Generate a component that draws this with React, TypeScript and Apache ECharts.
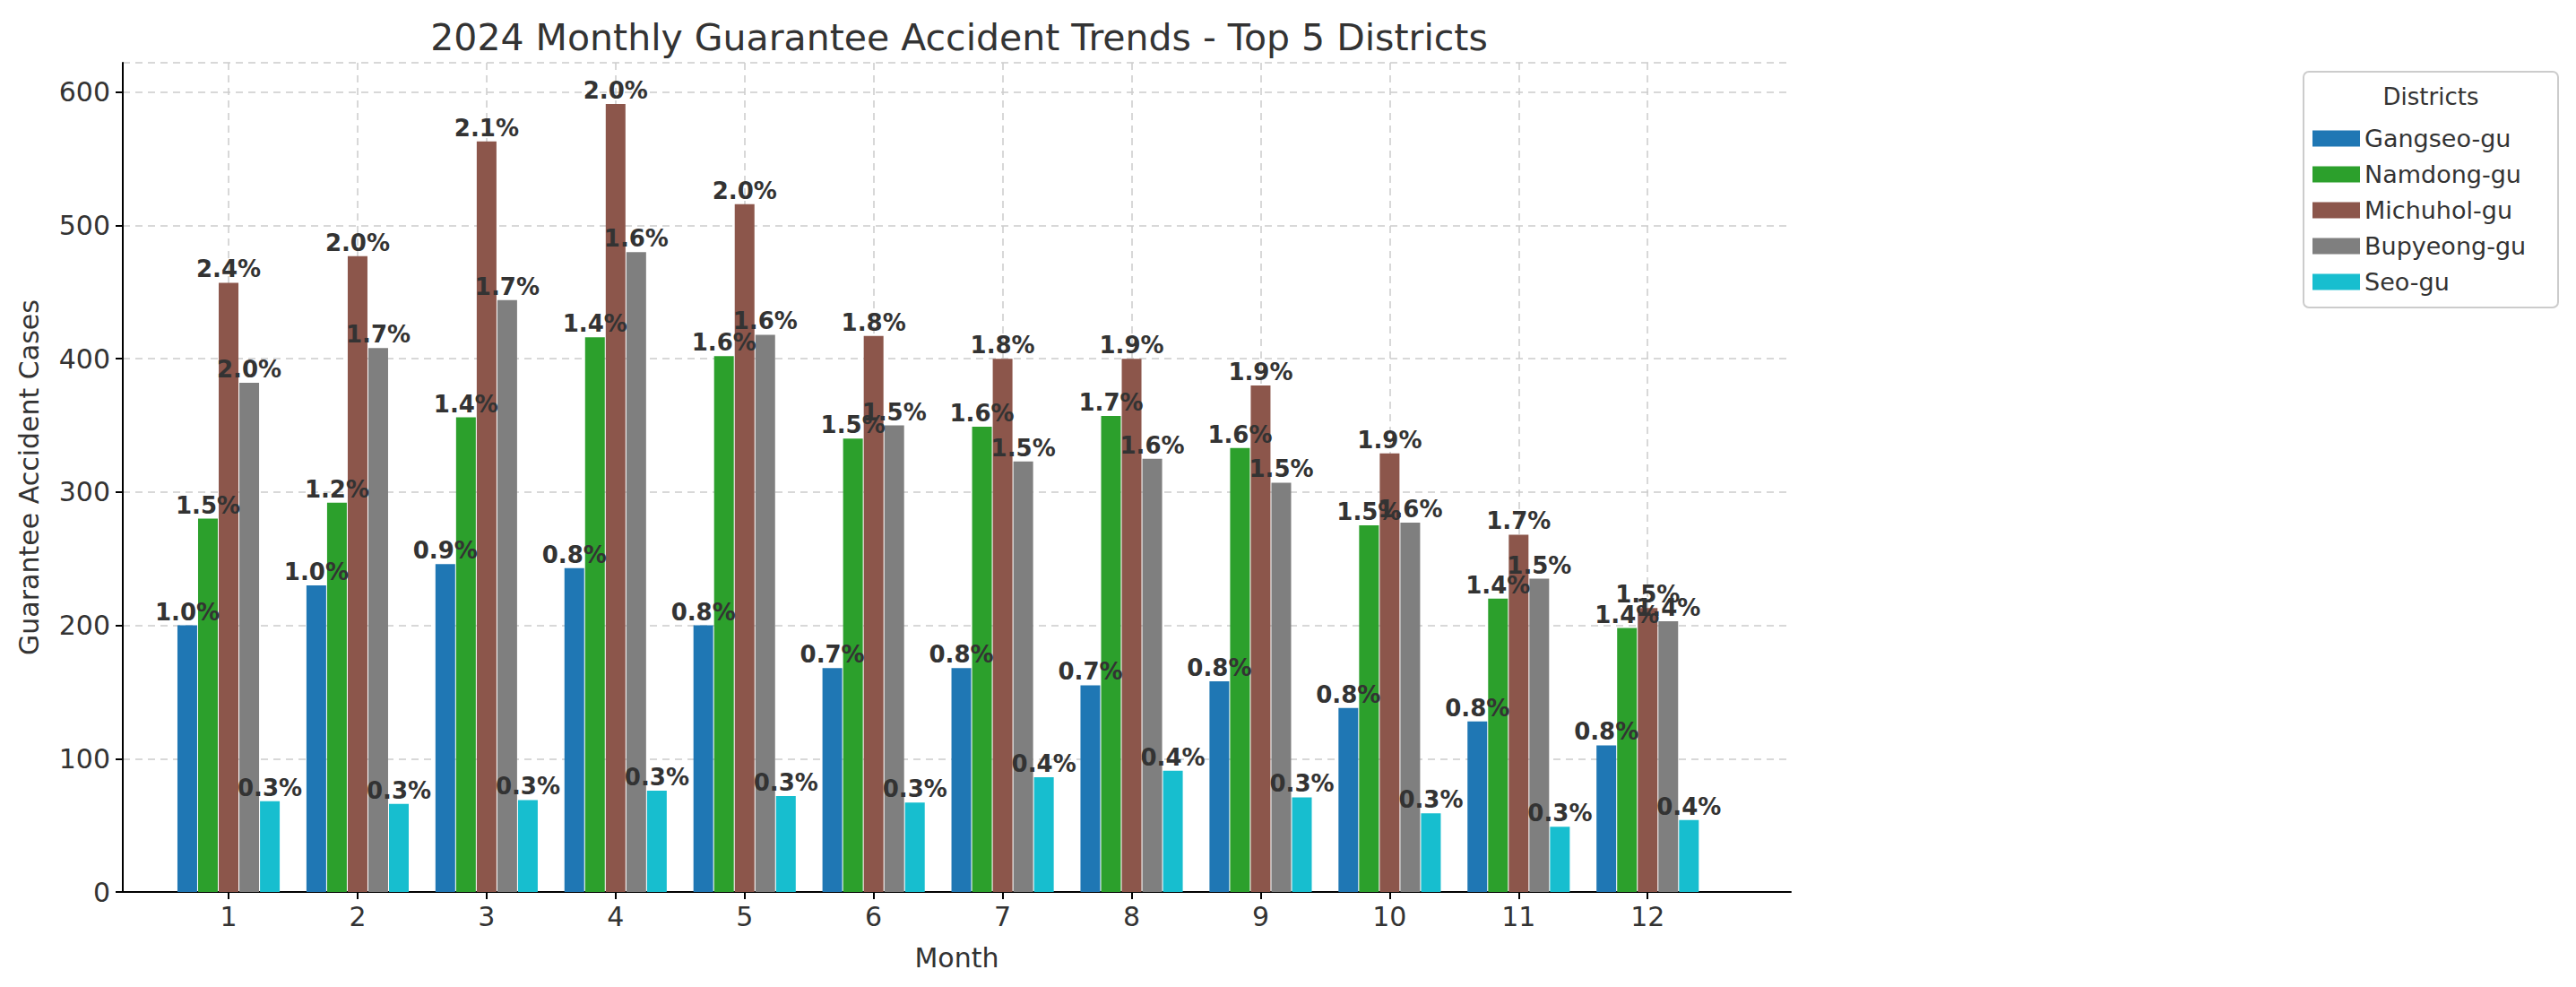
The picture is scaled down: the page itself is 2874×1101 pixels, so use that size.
import React, { useRef, useEffect } from 'react';
import * as echarts from 'echarts';

const months = [1, 2, 3, 4, 5, 6, 7, 8, 9, 10, 11, 12];
const districts = ['Gangseo-gu', 'Namdong-gu', 'Michuhol-gu', 'Bupyeong-gu', 'Seo-gu'];
const colors = ['#1f77b4', '#2ca02c', '#8c564b', '#7f7f7f', '#17becf'];

const gangseo = [200, 230, 246, 243, 200, 168, 168, 155, 158, 138, 128, 110];
const namdong = [280, 292, 356, 416, 402, 340, 349, 357, 333, 275, 220, 198];
const michuhol = [457, 477, 563, 591, 516, 417, 400, 400, 380, 329, 268, 213];
const bupyeong = [382, 408, 444, 480, 418, 350, 323, 325, 307, 277, 235, 203];
const seo = [68, 66, 69, 76, 72, 67, 86, 91, 71, 59, 49, 54];

const gangseoPct = ['1.0%', '1.0%', '0.9%', '0.8%', '0.8%', '0.7%', '0.8%', '0.7%', '0.8%', '0.8%', '0.8%', '0.8%'];
const namdongPct = ['1.5%', '1.2%', '1.4%', '1.4%', '1.6%', '1.5%', '1.6%', '1.7%', '1.6%', '1.5%', '1.4%', '1.4%'];
const michuholPct = ['2.4%', '2.0%', '2.1%', '2.0%', '2.0%', '1.8%', '1.8%', '1.9%', '1.9%', '1.9%', '1.7%', '1.5%'];
const bupyeongPct = ['2.0%', '1.7%', '1.7%', '1.6%', '1.6%', '1.5%', '1.5%', '1.6%', '1.5%', '1.6%', '1.5%', '1.4%'];
const seoPct = ['0.3%', '0.3%', '0.3%', '0.3%', '0.3%', '0.3%', '0.4%', '0.4%', '0.3%', '0.3%', '0.3%', '0.4%'];

const values = [gangseo, namdong, michuhol, bupyeong, seo];
const pcts = [gangseoPct, namdongPct, michuholPct, bupyeongPct, seoPct];
const offsets = [-0.32, -0.16, 0, 0.16, 0.32];

const FONT = 'DejaVu Sans';

const App: React.FC = () => {
  const chartRef = useRef<HTMLDivElement>(null);

  useEffect(() => {
    if (!chartRef.current) return;
    const chart = echarts.init(chartRef.current, null, { renderer: 'svg' });

    const series = districts.map((name, i) => ({
      name,
      type: 'bar',
      barWidth: 22,
      barGap: '-100%',
      itemStyle: { color: colors[i] },
      data: months.map((m, j) => [m + offsets[i], values[i][j]]),
      label: {
        show: true,
        position: 'top',
        distance: 2,
        fontFamily: FONT,
        fontWeight: 'bold',
        fontSize: 26,
        color: '#333',
        formatter: (p: any) => pcts[i][p.dataIndex],
      },
    }));

    chart.setOption({
      animation: false,
      textStyle: { fontFamily: FONT },
      title: {
        text: '2024 Monthly Guarantee Accident Trends - Top 5 Districts',
        left: 1057,
        textAlign: 'center',
        top: 8,
        textStyle: { fontFamily: FONT, fontSize: 41, fontWeight: 'normal', color: '#333' },
      },
      grid: { left: 129, top: 62, width: 1861, height: 925, containLabel: false },
      legend: {
        data: districts,
        orient: 'vertical',
        left: 2567,
        top: 128,
        itemWidth: 53,
        itemHeight: 18,
        itemGap: 13,
        icon: 'rect',
        textStyle: { fontFamily: FONT, fontSize: 27, color: '#333' },
      },
      graphic: [
        {
          type: 'rect',
          shape: { x: 2562, y: 72, width: 284, height: 263, r: 6 },
          style: { fill: 'none', stroke: '#ccc', lineWidth: 2 },
          z: -1,
        },
        {
          type: 'text',
          x: 2704,
          y: 100,
          style: { text: 'Districts', fontFamily: FONT, fontSize: 26, fill: '#333', align: 'center', verticalAlign: 'middle' },
        },
      ],
      xAxis: {
        type: 'value',
        min: 0.18,
        max: 13.11,
        name: 'Month',
        nameLocation: 'middle',
        nameGap: 58,
        nameTextStyle: { fontFamily: FONT, fontSize: 30, color: '#333' },
        axisLine: { lineStyle: { color: '#000', width: 2 } },
        axisTick: { show: true, customValues: months, length: 8, lineStyle: { color: '#000', width: 2 } },
        axisLabel: { customValues: months, fontFamily: FONT, fontSize: 30, color: '#333', margin: 12 },
        splitLine: { show: true, lineStyle: { type: [8, 6], color: '#ccc', width: 1.5 } },
      },
      yAxis: {
        type: 'value',
        min: 0,
        max: 622,
        interval: 100,
        name: 'Guarantee Accident Cases',
        nameLocation: 'middle',
        nameGap: 90,
        nameTextStyle: { fontFamily: FONT, fontSize: 30, color: '#333' },
        axisLine: { show: true, lineStyle: { color: '#000', width: 2 } },
        axisTick: { show: true, length: 8, lineStyle: { color: '#000', width: 2 } },
        axisLabel: { fontFamily: FONT, fontSize: 30, color: '#333', margin: 14, showMaxLabel: false },
        splitLine: { show: true, lineStyle: { type: [8, 6], color: '#ccc', width: 1.5 } },
      },
      series,
    });

    return () => {
      chart.dispose();
    };
  }, []);

  return <div ref={chartRef} style={{ width: '2858px', height: '1085px' }} />;
};

export default App;
